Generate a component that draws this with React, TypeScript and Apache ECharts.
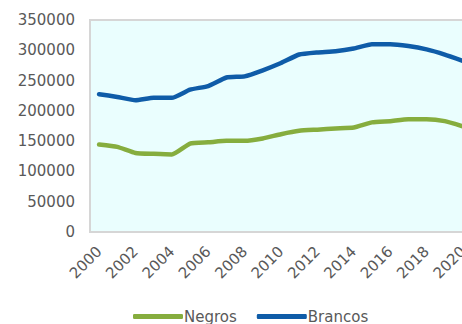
import React, { useEffect, useRef } from "react";
import * as echarts from "echarts";

const years = ["2000","2001","2002","2003","2004","2005","2006","2007","2008","2009","2010","2011","2012","2013","2014","2015","2016","2017","2018","2019","2020"];
const negros = [144500,140500,130500,129000,128000,146000,148000,150500,150500,154500,161500,167000,169000,171000,172500,181000,183000,186000,186000,183000,174500];
const brancos = [227500,223000,217500,221500,221500,235000,241000,255000,257000,267000,279000,293000,296500,298500,303000,310000,310000,307000,301500,293000,282500];
const yTicks = { min: 0, max: 350000, interval: 50000 };

const FONT = "DejaVu Sans";
const TXT = "#595959";

export default function App() {
  const ref = useRef<HTMLDivElement>(null);
  useEffect(() => {
    if (!ref.current) return;
    const chart = echarts.init(ref.current, undefined, { renderer: "svg" });
    chart.setOption({
      animation: false,
      textStyle: { fontFamily: FONT },
      grid: {
        left: 90,
        top: 20,
        width: 382,
        height: 212,
        show: true,
        backgroundColor: "#eafefe",
        borderColor: "#d6d6d6",
        borderWidth: 2,
      },
      legend: {
        left: 128,
        top: 304,
        itemWidth: 50,
        itemHeight: 5,
        itemGap: 20,
        icon: "roundRect",
        textStyle: { fontFamily: FONT, fontSize: 15, color: TXT, padding: [0, 0, 0, -4] },
        data: ["Negros", "Brancos"],
      },
      xAxis: {
        type: "category",
        data: years,
        boundaryGap: true,
        axisLine: { show: false },
        axisTick: { show: false },
        axisLabel: {
          interval: 1,
          rotate: 45,
          margin: 17,
          fontFamily: FONT,
          fontSize: 15,
          color: TXT,
        },
      },
      yAxis: {
        type: "value",
        min: yTicks.min,
        max: yTicks.max,
        interval: yTicks.interval,
        axisLine: { show: false },
        axisTick: { show: false },
        splitLine: { show: false },
        axisLabel: {
          margin: 15,
          fontFamily: FONT,
          fontSize: 15,
          color: TXT,
          formatter: (v: number) => String(v),
        },
      },
      series: [
        {
          name: "Negros",
          type: "line",
          data: negros,
          smooth: 0.15,
          showSymbol: false,
          symbol: "none",
          lineStyle: { color: "#86ad3e", width: 4.5, cap: "round", join: "round" },
          itemStyle: { color: "#86ad3e" },
        },
        {
          name: "Brancos",
          type: "line",
          data: brancos,
          smooth: 0.15,
          showSymbol: false,
          symbol: "none",
          lineStyle: { color: "#0f5ca8", width: 4.5, cap: "round", join: "round" },
          itemStyle: { color: "#0f5ca8" },
        },
      ],
    });
    return () => chart.dispose();
  }, []);
  return (
    <div style={{ position: "fixed", left: 0, top: 0, width: 462, height: 324, overflow: "hidden", background: "#fff" }}>
      <div ref={ref} style={{ width: 490, height: 324 }} />
    </div>
  );
}
